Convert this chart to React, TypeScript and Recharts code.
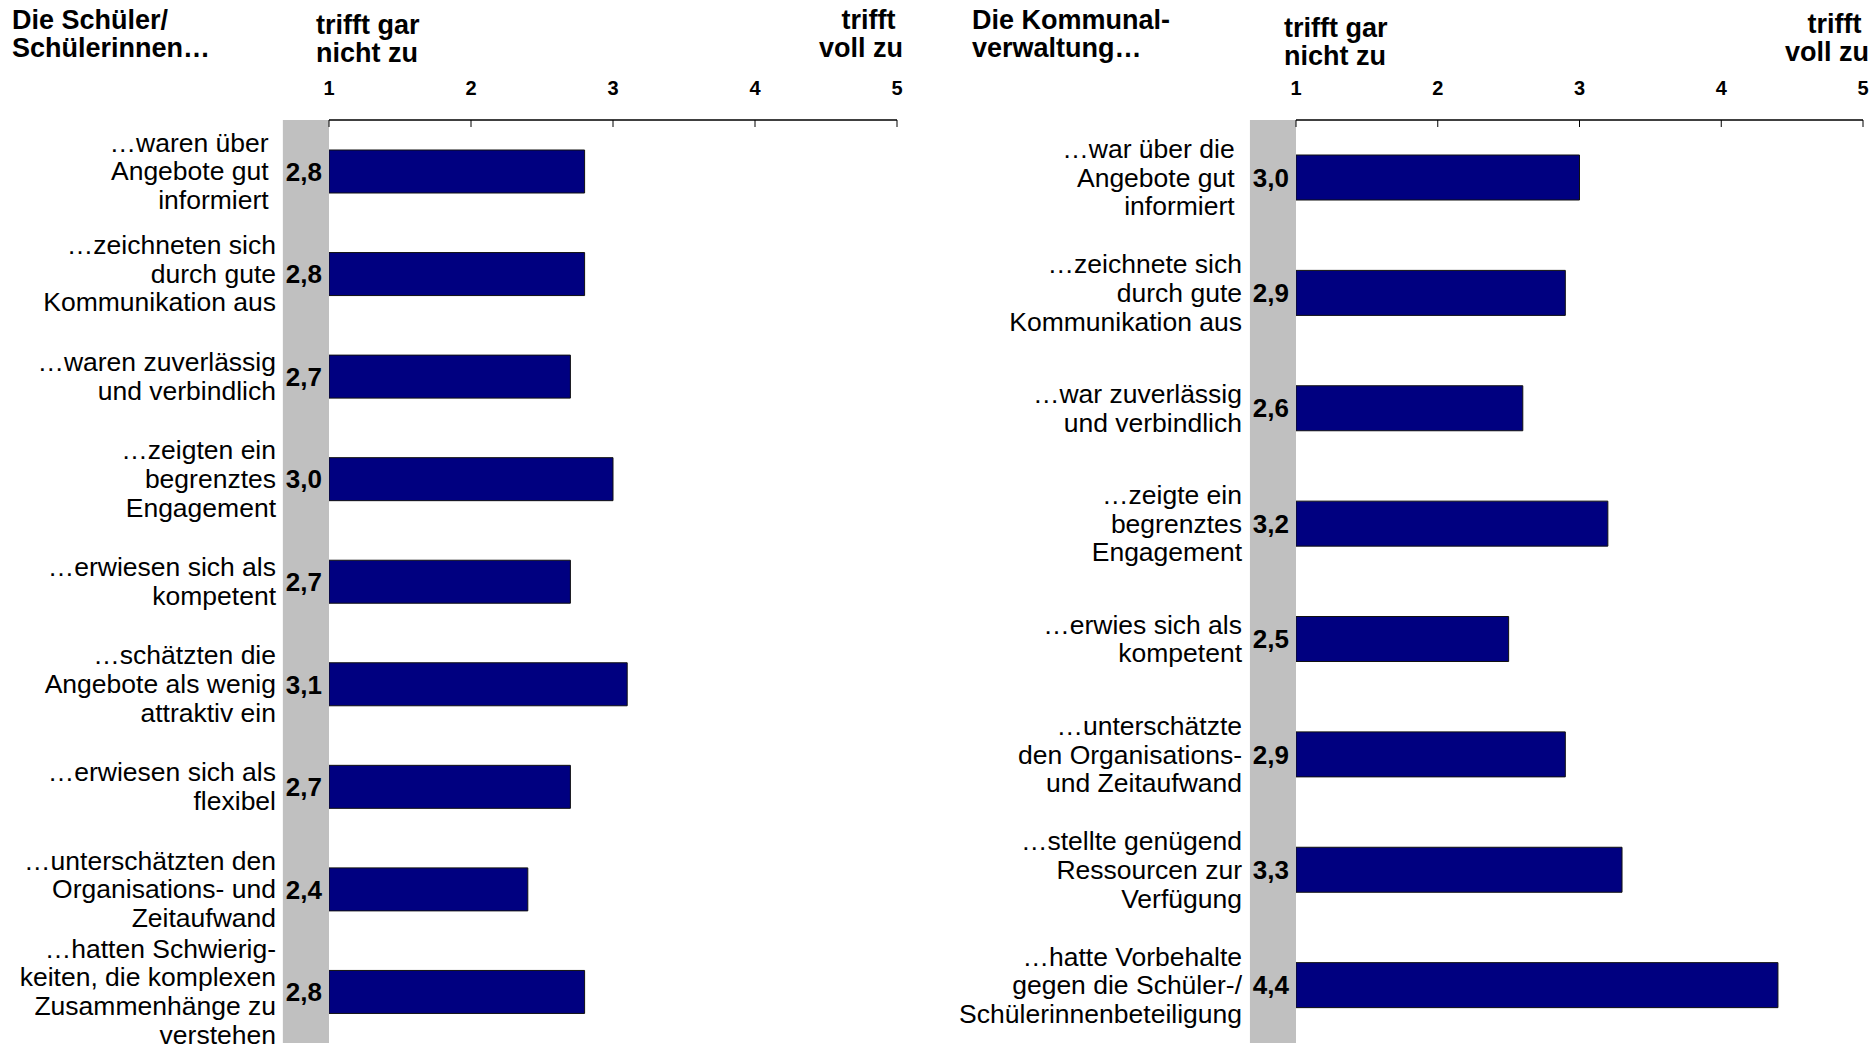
import React from "react";
import { BarChart, Bar, XAxis, YAxis, ReferenceArea, LabelList } from "recharts";

const FONT = '"Liberation Sans", Arial, Helvetica, sans-serif';

// Schüler/Schülerinnen – Aussagen und Mittelwerte
const schuelerItems = [
  "…waren über\u00A0\nAngebote gut\u00A0\ninformiert\u00A0",
  "…zeichneten sich\ndurch gute\nKommunikation aus",
  "…waren zuverlässig\nund verbindlich",
  "…zeigten ein\nbegrenztes\nEngagement",
  "…erwiesen sich als\nkompetent",
  "…schätzten die\nAngebote als wenig\nattraktiv ein",
  "…erwiesen sich als\nflexibel",
  "…unterschätzten den\nOrganisations- und\nZeitaufwand",
  "…hatten Schwierig-\nkeiten, die komplexen\nZusammenhänge zu\nverstehen",
];
const schuelerValues = [2.8, 2.8, 2.7, 3.0, 2.7, 3.1, 2.7, 2.4, 2.8];

// Kommunalverwaltung – Aussagen und Mittelwerte
const verwaltungItems = [
  "…war über die\u00A0\nAngebote gut\u00A0\ninformiert\u00A0",
  "…zeichnete sich\ndurch gute\nKommunikation aus",
  "…war zuverlässig\nund verbindlich",
  "…zeigte ein\nbegrenztes\nEngagement",
  "…erwies sich als\nkompetent",
  "…unterschätzte\nden Organisations-\nund Zeitaufwand",
  "…stellte genügend\nRessourcen zur\nVerfügung",
  "…hatte Vorbehalte\ngegen die Schüler-/\nSchülerinnenbeteiligung",
];
const verwaltungValues = [3.0, 2.9, 2.6, 3.2, 2.5, 2.9, 3.3, 4.4];

const scaleTicks = [1, 2, 3, 4, 5];
const GRAY_FROM = 0.675; // grey value column left of the scale start

const CategoryTick = (props: any) => {
  const { x, y, payload } = props;
  const lines = String(payload.value).split("\n");
  const lh = 28.6;
  return (
    <text x={x} y={y} textAnchor="end" fontSize={26.5} fontFamily={FONT} fill="#000">
      {lines.map((line, i) => (
        <tspan key={i} x={x} dy={i === 0 ? -((lines.length - 1) / 2) * lh + 9 : lh}>
          {line}
        </tspan>
      ))}
    </text>
  );
};

const fmt = (v: any) => Number(v).toFixed(1).replace(".", ",");

interface SurveyChartProps {
  items: string[];
  values: number[];
  width: number;
  axisWidth: number;
  labelGap: number;
  rightMargin: number;
  barSize: number;
}

const SurveyChart: React.FC<SurveyChartProps> = ({ items, values, width, axisWidth, labelGap, rightMargin, barSize }) => {
  const data = items.map((name, i) => ({ name, value: values[i] }));
  return (
    <BarChart
      width={width}
      height={1048}
      data={data}
      layout="vertical"
      margin={{ top: 80, right: rightMargin, bottom: 5, left: 0 }}
      barSize={barSize}
    >
      <ReferenceArea x1={GRAY_FROM} x2={1} ifOverflow="visible" fill="#c0c0c0" fillOpacity={1} stroke="none" />
      <XAxis
        type="number"
        orientation="top"
        domain={[1, 5]}
        ticks={scaleTicks}
        allowDataOverflow
        height={40}
        axisLine={{ stroke: "#000", strokeWidth: 1.5 }}
        tickLine={{ stroke: "#000", strokeWidth: 1 }}
        tickSize={-7}
        tickMargin={32}
        tick={{ fill: "#000", fontSize: 20, fontWeight: 700, fontFamily: FONT }}
      />
      <YAxis
        type="category"
        dataKey="name"
        width={axisWidth}
        axisLine={false}
        tickLine={false}
        tickSize={0}
        tickMargin={labelGap}
        interval={0}
        tick={<CategoryTick />}
      />
      <Bar dataKey="value" fill="#000080" stroke="#111" strokeWidth={1} isAnimationActive={false}>
        <LabelList
          dataKey="value"
          position="left"
          offset={7}
          formatter={fmt}
          style={{ fill: "#000", fontSize: 26, fontWeight: 700, fontFamily: FONT }}
        />
      </Bar>
    </BarChart>
  );
};

const head: React.CSSProperties = {
  position: "absolute",
  fontFamily: FONT,
  fontWeight: 700,
  fontSize: 27,
  lineHeight: "28px",
  whiteSpace: "pre",
  color: "#000",
};

export default function App() {
  return (
    <div style={{ position: "absolute", left: 0, top: 0, width: 1875, height: 1048, background: "#fff", overflow: "hidden" }}>
      <div style={{ position: "absolute", left: 0, top: 0 }}>
        <SurveyChart
          items={schuelerItems}
          values={schuelerValues}
          width={920}
          axisWidth={329}
          labelGap={53}
          rightMargin={23}
          barSize={43}
        />
      </div>
      <div style={{ position: "absolute", left: 940, top: 0 }}>
        <SurveyChart
          items={verwaltungItems}
          values={verwaltungValues}
          width={935}
          axisWidth={356}
          labelGap={54}
          rightMargin={12}
          barSize={45}
        />
      </div>

      <div style={{ ...head, left: 12, top: 6 }}>{"Die Schüler/\nSchülerinnen…"}</div>
      <div style={{ ...head, left: 316, top: 11 }}>{"trifft gar\nnicht zu"}</div>
      <div style={{ ...head, right: 1875 - 903, top: 6, textAlign: "right" }}>{"trifft\u00A0\nvoll zu"}</div>

      <div style={{ ...head, left: 972, top: 6 }}>{"Die Kommunal-\nverwaltung…"}</div>
      <div style={{ ...head, left: 1284, top: 14 }}>{"trifft gar\nnicht zu"}</div>
      <div style={{ ...head, right: 1875 - 1869, top: 10, textAlign: "right" }}>{"trifft\u00A0\nvoll zu"}</div>
    </div>
  );
}
